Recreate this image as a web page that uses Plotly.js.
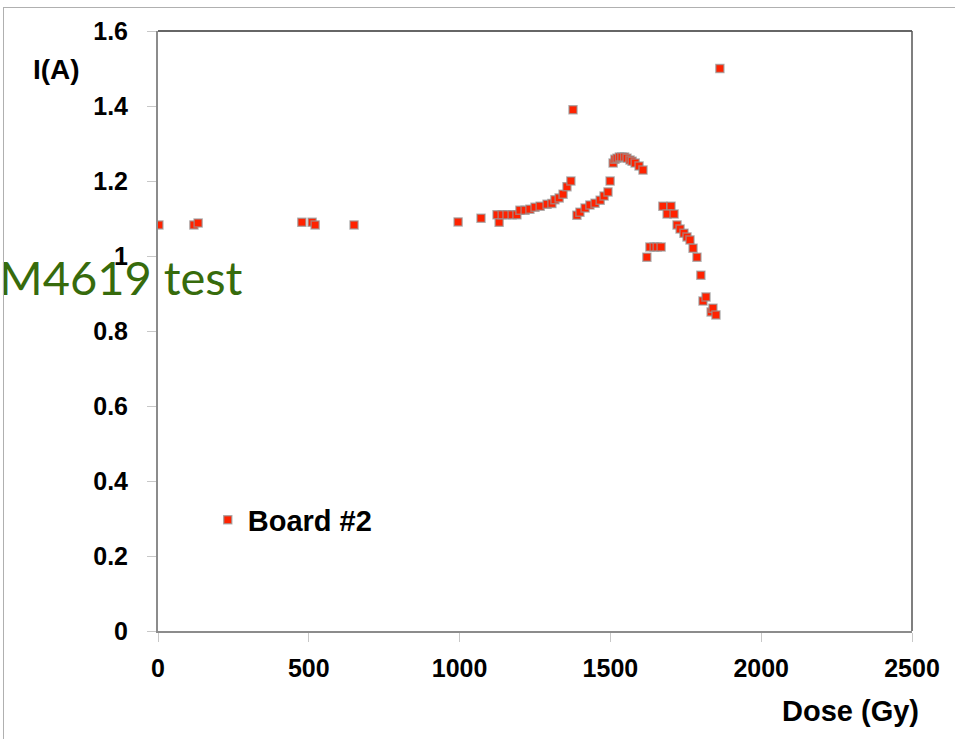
<!DOCTYPE html>
<html>
<head>
<meta charset="utf-8">
<script src="https://cdn.plot.ly/plotly-3.0.1.min.js"></script>
<style>
  html, body { margin: 0; padding: 0; background: #fff; }
  #wrap { position: relative; width: 955px; height: 739px; overflow: hidden; }
  #chart { position: absolute; left: 0; top: 0; width: 955px; height: 739px; }
  #frame { position: absolute; left: 3px; top: 7px; width: 960px; height: 740px;
           border-top: 1px solid #b0b0b0; border-left: 1px solid #b0b0b0; pointer-events: none; }
</style>
</head>
<body>
<div id="wrap">
  <div id="chart"></div>
  <div id="frame"></div>
</div>
<script>
// Dose (Gy) and current I(A) for Board #2
const dose = [
  3, 119, 133, 477, 511, 521, 650, 995, 1071, 1131,
  1124, 1141, 1157, 1174, 1190, 1200, 1217, 1233, 1250, 1267, 1290, 1306, 1316, 1330, 1343, 1356, 1369,
  1376,
  1389, 1399, 1416, 1432, 1449, 1466, 1479, 1492, 1499,
  1509, 1515, 1522, 1530, 1538, 1547, 1555, 1565, 1572, 1582, 1595, 1608,
  1621, 1631, 1645, 1655, 1668,
  1674, 1701, 1688, 1711, 1721, 1731, 1744, 1754, 1764, 1774, 1787, 1800, 1807, 1817, 1834, 1840, 1850,
  1863
];
const current = [
  1.083, 1.083, 1.088, 1.090, 1.090, 1.083, 1.083, 1.091, 1.101, 1.090,
  1.110, 1.110, 1.110, 1.110, 1.110, 1.122, 1.122, 1.125, 1.130, 1.133, 1.138, 1.140, 1.150, 1.155, 1.165, 1.185, 1.200,
  1.390,
  1.109, 1.117, 1.128, 1.136, 1.141, 1.149, 1.160, 1.171, 1.200,
  1.248, 1.258, 1.261, 1.264, 1.264, 1.264, 1.261, 1.256, 1.253, 1.248, 1.240, 1.229,
  0.997, 1.024, 1.024, 1.024, 1.024,
  1.133, 1.133, 1.112, 1.112, 1.083, 1.072, 1.061, 1.051, 1.043, 1.021, 0.997, 0.949, 0.880, 0.891, 0.851, 0.861, 0.843,
  1.500
];
const seriesName = 'Board #2';
const xTicks = [0, 500, 1000, 1500, 2000, 2500];
const yTicks = [0, 0.2, 0.4, 0.6, 0.8, 1, 1.2, 1.4, 1.6];

const boldFont = 'Liberation Sans, Arial, sans-serif';
const tickFont = { family: boldFont, size: 25, color: '#000', weight: 'bold' };

const trace = {
  type: 'scatter', mode: 'markers', name: seriesName,
  x: dose, y: current,
  marker: { symbol: 'square', size: 8, color: '#ff2200', line: { color: 'rgba(150,150,150,0.7)', width: 1.5 } },
  showlegend: true
};

const layout = {
  width: 955, height: 739,
  margin: { l: 158, r: 43, t: 31, b: 108, pad: 0 },
  paper_bgcolor: '#fff', plot_bgcolor: '#fff',
  showlegend: true,
  legend: {
    x: 0.066, y: 0.185, xanchor: 'left', yanchor: 'middle',
    bgcolor: 'rgba(0,0,0,0)',
    font: { family: boldFont, size: 29, color: '#000', weight: 'bold' },
    itemsizing: 'trace'
  },
  xaxis: {
    range: [0, 2500], tickvals: xTicks, ticktext: xTicks.map(String),
    showgrid: false, zeroline: false,
    showline: true, linecolor: '#8c8c8c', linewidth: 2,
    ticks: 'outside', ticklen: 9, tickcolor: '#c8c8c8', tickwidth: 1,
    tickfont: tickFont, ticklabelstandoff: 5
  },
  yaxis: {
    range: [0, 1.6], tickvals: yTicks, ticktext: yTicks.map(String),
    showgrid: false, zeroline: false,
    showline: true, linecolor: '#8c8c8c', linewidth: 2,
    ticks: 'outside', ticklen: 9, tickcolor: '#c8c8c8', tickwidth: 1,
    tickfont: tickFont, ticklabelstandoff: 14
  },
  shapes: [
    { type: 'line', xref: 'paper', yref: 'paper', x0: 0, x1: 1, y0: 1, y1: 1, line: { color: '#333', width: 1.5 } },
    { type: 'line', xref: 'paper', yref: 'paper', x0: 1, x1: 1, y0: 0, y1: 1, line: { color: '#555', width: 1.5 } }
  ],
  annotations: [
    { text: 'I(A)', xref: 'paper', yref: 'paper', x: -0.134, y: 0.935, xanchor: 'center', yanchor: 'middle',
      showarrow: false, font: { family: boldFont, size: 28, color: '#000', weight: 'bold' } },
    { text: 'Dose (Gy)', xref: 'paper', yref: 'paper', x: 0.919, y: -0.133, xanchor: 'center', yanchor: 'middle',
      showarrow: false, font: { family: boldFont, size: 29, color: '#000', weight: 'bold' } },
    { text: 'M4619 test', xref: 'paper', yref: 'paper', x: -0.214, y: 0.59, xanchor: 'left', yanchor: 'middle',
      showarrow: false, font: { family: 'Lato, Open Sans, sans-serif', size: 47, color: '#376b0c' } }
  ]
};

Plotly.newPlot('chart', [trace], layout, { displayModeBar: false, staticPlot: true });
</script>
</body>
</html>
